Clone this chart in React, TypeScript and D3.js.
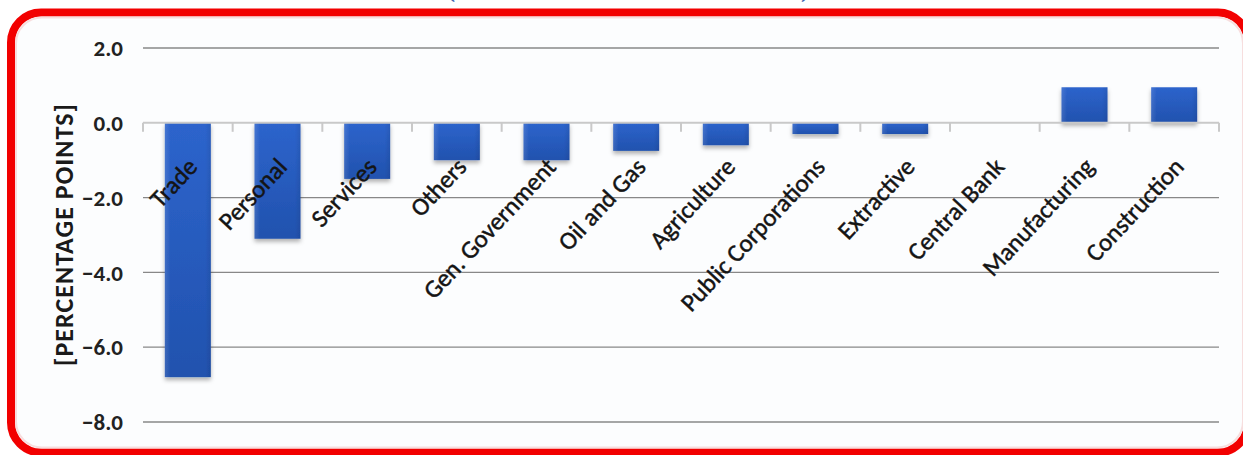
import React from "react";
import * as d3 from "d3";

// Contribution by sector, percentage points
const categories = [
  "Trade",
  "Personal",
  "Services",
  "Others",
  "Gen. Government",
  "Oil and Gas",
  "Agriculture",
  "Public Corporations",
  "Extractive",
  "Central Bank",
  "Manufacturing",
  "Construction",
];
const values = [-6.8, -3.1, -1.5, -1.0, -1.0, -0.75, -0.6, -0.3, -0.3, 0.0, 0.95, 0.95];
const yTicks = [2, 0, -2, -4, -6, -8];
const yTitle = "[PERCENTAGE POINTS]";

const W = 1243;
const H = 455;
const FONT = "Carlito, Calibri, Lato, 'Open Sans', sans-serif";

export default function App() {
  const x = d3
    .scaleBand<string>()
    .domain(categories)
    .range([143, 1219])
    .paddingInner(0.487)
    .paddingOuter(0.2435);
  const y = d3.scaleLinear().domain([-8, 2]).range([422, 48]);

  const step = x.step();
  const gap = (step - x.bandwidth()) / 2;
  const boundaries = categories.map((c) => (x(c) as number) - gap);
  boundaries.push(x.range()[1]);

  const y0 = y(0);

  return (
    <svg
      width={W}
      height={H}
      viewBox={`0 0 ${W} ${H}`}
      style={{ position: "absolute", left: 0, top: 0, background: "#ffffff" }}
    >
      <defs>
        <linearGradient id="barFill" x1="0" y1="0" x2="0" y2="1">
          <stop offset="0%" stopColor="#2d64cc" />
          <stop offset="100%" stopColor="#2152ae" />
        </linearGradient>
        <linearGradient id="barEdge" x1="0" y1="0" x2="1" y2="0">
          <stop offset="0%" stopColor="#ffffff" stopOpacity={0.12} />
          <stop offset="12%" stopColor="#ffffff" stopOpacity={0} />
          <stop offset="88%" stopColor="#000000" stopOpacity={0} />
          <stop offset="100%" stopColor="#000000" stopOpacity={0.08} />
        </linearGradient>
        <filter id="barShadow" x="-20%" y="-20%" width="140%" height="160%">
          <feDropShadow dx="0" dy="3" stdDeviation="2" floodColor="#000" floodOpacity="0.3" />
        </filter>
      </defs>

      {/* title fragments peeking above the frame */}
      <text x={446} y={-2} fontFamily="'DejaVu Serif', serif" fontSize={26} fill="#3f63b0">
        (
      </text>
      <text x={800} y={-2} fontFamily="'DejaVu Serif', serif" fontSize={26} fill="#3f63b0">
        )
      </text>

      {/* rounded red frame */}
      <rect
        x={11}
        y={12.5}
        width={1237}
        height={440}
        rx={30}
        ry={30}
        fill="#fcfdfe"
        stroke="#f20000"
        strokeWidth={8}
      />
      <rect
        x={16}
        y={17.5}
        width={1227}
        height={430}
        rx={26}
        ry={26}
        fill="none"
        stroke="#f7dede"
        strokeWidth={2}
      />

      {/* horizontal gridlines */}
      {yTicks
        .filter((t) => t !== 0)
        .map((t) => (
          <line
            key={`g${t}`}
            x1={x.range()[0]}
            x2={x.range()[1]}
            y1={y(t)}
            y2={y(t)}
            stroke="#888888"
            strokeWidth={1.3}
          />
        ))}

      {/* y tick labels */}
      {yTicks.map((t) => (
        <text
          key={`t${t}`}
          x={123}
          y={y(t)}
          dy="0.36em"
          textAnchor="end"
          fontFamily={FONT}
          fontWeight={700}
          fontSize={23}
          fill="#222222"
        >
          {d3.format(".1f")(t)}
        </text>
      ))}

      {/* y axis title */}
      <text
        transform={`translate(73, 235) rotate(-90)`}
        textAnchor="middle"
        fontFamily={FONT}
        fontWeight={700}
        fontSize={26}
        textLength={262}
        lengthAdjust="spacing"
        fill="#1a1a1a"
      >
        {yTitle}
      </text>

      {/* bars */}
      {categories.map((c, i) => {
        const v = values[i];
        if (v === 0) return null;
        const top = Math.min(y(v), y0);
        const h = Math.abs(y(v) - y0);
        return (
          <g key={`b${c}`} filter="url(#barShadow)">
            <rect x={x(c)} y={top} width={x.bandwidth()} height={h} fill="url(#barFill)" />
            <rect x={x(c)} y={top} width={x.bandwidth()} height={h} fill="url(#barEdge)" />
          </g>
        );
      })}

      {/* zero axis with category tick marks */}
      <line
        x1={x.range()[0]}
        x2={x.range()[1]}
        y1={y0}
        y2={y0}
        stroke="#c9c9c9"
        strokeWidth={2}
      />
      {boundaries.map((bx, i) => (
        <line
          key={`k${i}`}
          x1={bx}
          x2={bx}
          y1={y0}
          y2={y0 + 9}
          stroke="#c9c9c9"
          strokeWidth={2}
        />
      ))}

      {/* rotated category labels */}
      {categories.map((c) => {
        const cx = (x(c) as number) + x.bandwidth() / 2 + 11;
        return (
          <text
            key={`l${c}`}
            transform={`translate(${cx}, 168) rotate(-47)`}
            textAnchor="end"
            fontFamily={FONT}
            fontSize={25}
            fill="#141414"
            stroke="#141414"
            strokeWidth={0.45}
          >
            {c}
          </text>
        );
      })}
    </svg>
  );
}
